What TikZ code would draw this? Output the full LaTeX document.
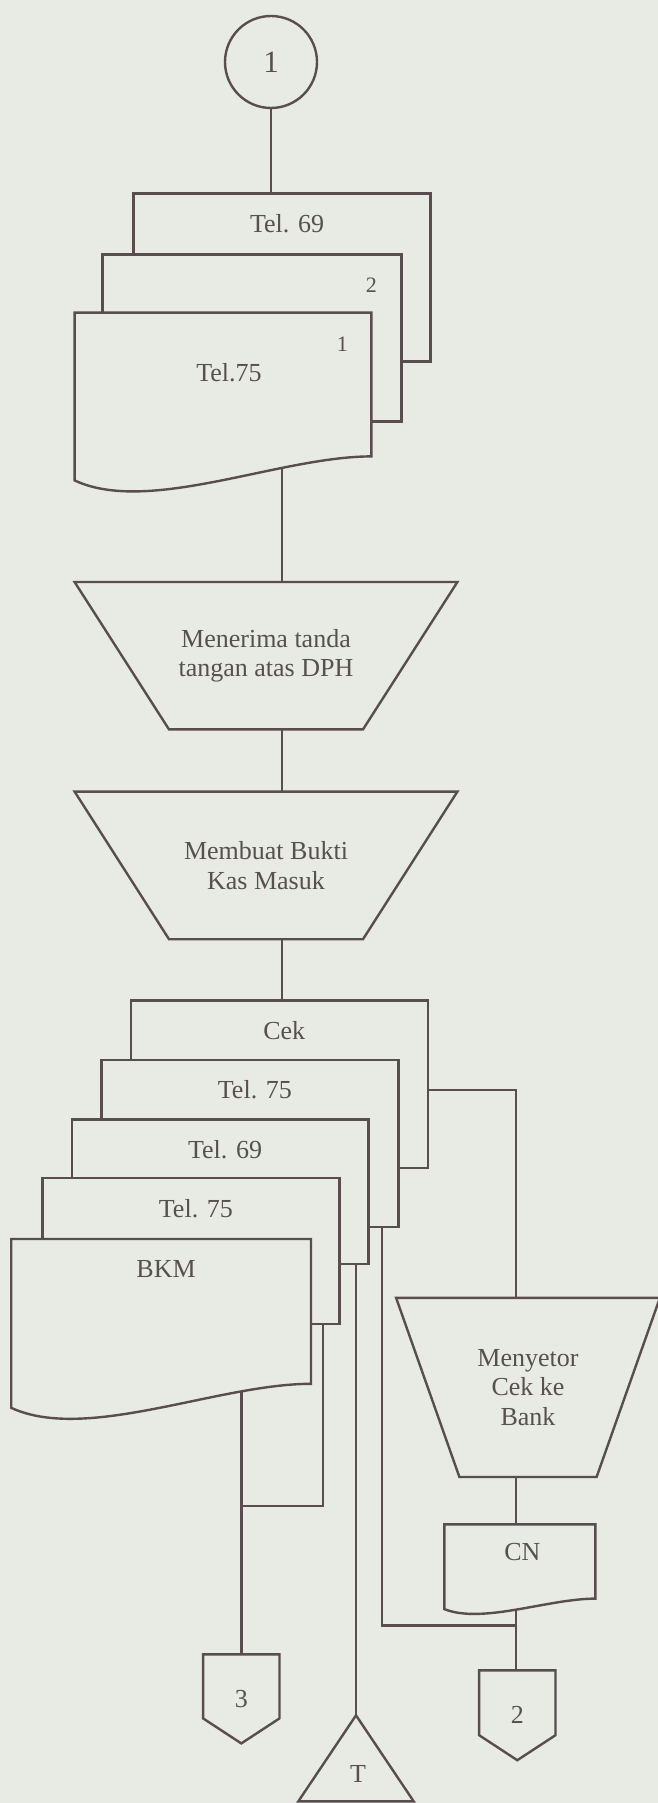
\documentclass[tikz,border=0pt]{standalone}
\usepackage{fontspec}
\setmainfont{Liberation Serif}
\usetikzlibrary{calc}

\definecolor{paper}{HTML}{E8EAE4}
\definecolor{ink}{HTML}{5A4D50}
\definecolor{txt}{HTML}{57504F}

\newcommand{\drawsheet}[1]{\filldraw[line, fill=paper] (#1.north west) rectangle (#1.south east);}
\newcommand{\drawdoc}[2]{\filldraw[line, fill=paper] (#1.south east) -- (#1.north east) -- (#1.north west)
  -- ($(#1.south west)+(0,-#2)$) .. controls ($(#1.south west)!0.25!(#1.south east)+(0,-2.45*#2)$)
  and ($(#1.south west)!0.69!(#1.south east)$) .. (#1.south east) -- cycle;}
\newcommand{\drawfunnel}[2]{\draw[line] (#1.north west) -- (#1.north east) -- ($(#1.south east)+(-#2,0)$)
  -- ($(#1.south west)+(#2,0)$) -- cycle;}
\newcommand{\drawoffpage}[1]{\draw[line] (#1.north west) -- (#1.north east) -- ($(#1.south east)+(0,12.5pt)$)
  -- (#1.south) -- ($(#1.south west)+(0,12.5pt)$) -- cycle;}

\begin{document}
\begin{tikzpicture}[x=0.5pt, y=-0.5pt,
  every node/.style={font=\fontsize{13}{14.7}\selectfont, text=txt},
  line/.style={draw=ink, line width=1.2pt},
  box/.style={rectangle, inner sep=0pt, align=center},
  lbl/.style={inner sep=0pt, align=center},
  small/.style={lbl, font=\fontsize{11}{13}\selectfont}]
  \useasboundingbox (0,0) rectangle (658,1803);
  \fill[paper] (0,0) rectangle (658,1803);
  \coordinate (spine) at (282,0);
  \coordinate (j1) at (516,1089.8);
  \coordinate (j2) at (381.8,1625.5);
  \coordinate (j3) at (323.1,1505.9);

  \node[line, circle, minimum size=46pt, inner sep=0pt, font=\fontsize{15.5}{18}\selectfont] (start) at (271,62) {1};
  \node[box, minimum width=148pt, minimum height=83.5pt] (tel69) at (282,277.5) {};
  \node[box, minimum width=149pt, minimum height=83pt] (copy2) at (252,338) {};
  \node[box, minimum width=148pt, minimum height=71.5pt] (tel75) at (223,384.5) {};
  \node[box, minimum width=191pt, minimum height=73.3pt] (dph) at (266,655.7) {Menerima tanda\\tangan atas DPH};
  \node[box, minimum width=191pt, minimum height=73.4pt] (kas) at (266,865.4) {Membuat Bukti\\Kas Masuk};
  \node[box, minimum width=148pt, minimum height=83.3pt] (cek) at (279.3,1084.2) {};
  \node[box, minimum width=148pt, minimum height=82.9pt] (t75a) at (249.9,1143.4) {};
  \node[box, minimum width=148pt, minimum height=71.9pt] (t69b) at (220.1,1191.9) {};
  \node[box, minimum width=148pt, minimum height=72.4pt] (t75b) at (190.9,1251) {};
  \node[box, minimum width=149.5pt, minimum height=72pt] (bkm) at (161.1,1311.4) {};
  \node[box, minimum width=131.5pt, minimum height=89.2pt] (setor) at (528,1387.4) {Menyetor\\Cek ke\\Bank};
  \node[box, minimum width=75.1pt, minimum height=36.7pt] (cn) at (519.9,1561.5) {};
  \node[box, minimum width=37.75pt, minimum height=44.1pt] (off3) at (241.3,1698.9) {3};
  \node[box, minimum width=37.75pt, minimum height=44.5pt] (off2) at (517.3,1715.3) {2};
  \node[box, minimum width=57.25pt, minimum height=42.6pt] (tri) at (356,1758.3) {};

  \draw[line] (start.south) -- (start.south |- tel69.north);
  \draw[line] (tel75.south -| spine) -- (dph.north -| spine);
  \draw[line] (dph.south -| spine) -- (kas.north -| spine);
  \draw[line] (kas.south -| spine) -- (cek.north -| spine);
  \draw[line] (j1 -| cek.east) -- (j1) -- (j1 |- setor.north);
  \draw[line] (setor.south -| j1) -- (cn.north -| j1);
  \draw[line] (cn.south -| j1) -- (j1 |- off2.north);
  \draw[line] (t75a.south -| j2) -- (j2) -- (j2 -| j1);
  \draw[line] (t69b.south -| tri.north) -- (tri.north);
  \draw[line] (t75b.south -| j3) -- (j3) -- (j3 -| off3.north);
  \draw[line] (bkm.south -| off3.north) -- (off3.north);

  \drawsheet{tel69} \drawsheet{copy2} \drawdoc{tel75}{12pt}
  \drawfunnel{dph}{47.2pt} \drawfunnel{kas}{47.2pt}
  \drawsheet{cek} \drawsheet{t75a} \drawsheet{t69b} \drawsheet{t75b} \drawdoc{bkm}{12pt}
  \drawfunnel{setor}{31.65pt}
  \drawdoc{cn}{5.25pt}
  \drawoffpage{off3} \drawoffpage{off2}
  \draw[line] (tri.north) -- (tri.south east) -- (tri.south west) -- cycle;

  \node[lbl] (tel69L) at ([shift={(2.5pt,-15pt)}]tel69.north) {Tel. 69};
  \node[small] (copy2L) at ([shift={(-15pt,-15.3pt)}]copy2.north east) {2};
  \node[small] (tel75N) at ([shift={(-14.5pt,-16pt)}]tel75.north east) {1};
  \node[lbl] (tel75L) at ([shift={(3pt,-30pt)}]tel75.north) {Tel.75};
  \node[lbl] (cekL) at ([shift={(2.5pt,-15pt)}]cek.north) {Cek};
  \node[lbl] (t75aL) at ([shift={(2.5pt,-15pt)}]t75a.north) {Tel. 75};
  \node[lbl] (t69bL) at ([shift={(2.5pt,-15pt)}]t69b.north) {Tel. 69};
  \node[lbl] (t75bL) at ([shift={(2.5pt,-15pt)}]t75b.north) {Tel. 75};
  \node[lbl] (bkmL) at ([shift={(2.5pt,-15pt)}]bkm.north) {BKM};
  \node[lbl] (cnL) at ([shift={(1.25pt,-14pt)}]cn.north) {CN};
  \node[lbl] (triL) at ([shift={(1pt,-8pt)}]tri.center) {T};
\end{tikzpicture}
\end{document}
